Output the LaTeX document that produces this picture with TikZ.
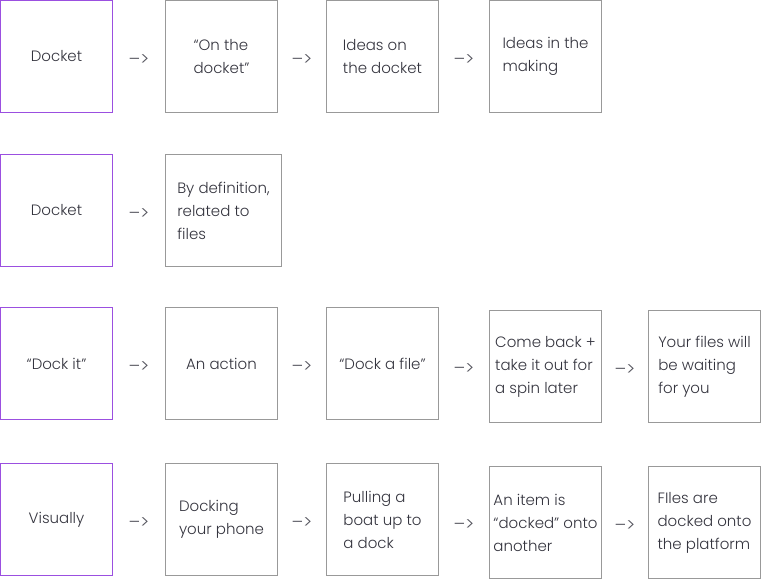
\documentclass[tikz,border=0pt]{standalone}
\usepackage{fontspec}
\setmainfont{Poppins Light}
\usepackage{tikz}

\definecolor{boxgray}{HTML}{999999}
\definecolor{headviolet}{HTML}{9B4FE0}
\definecolor{inkgray}{HTML}{34343E}
\definecolor{arrowgray}{HTML}{55555E}

\begin{document}
\begin{tikzpicture}[x=1pt, y=-1pt,
    card/.style={rectangle, draw=boxgray, line width=1pt, minimum width=112pt, minimum height=112pt,
                 align=left, text=inkgray, font=\fontsize{15}{23}\selectfont, inner sep=0pt},
    headcard/.style={card, draw=headviolet},
    goesto/.style={text=arrowgray, font=\fontsize{18}{23}\selectfont, yshift=-4pt}]
    \useasboundingbox (0,0) rectangle (762,580);

    % row 1
    \node at (56.5,56.5) [headcard] (Docket) {Docket};
    \node at (221.5,56.5) [card] (OnDocket) {“On the\\docket”};
    \node at (382.5,56.5) [card] (IdeasOn) {Ideas on\\the docket};
    \node at (545.5,56.5) [card] (IdeasMaking) {Ideas in the\\making};

    % row 2
    \node at (56.5,210.5) [headcard] (DocketTwo) {Docket};
    \node at (223.5,210.5) [card, minimum width=116pt] (Definition) {By definition,\\related to\\files};

    % row 3
    \node at (56.5,363.5) [headcard] (DockIt) {“Dock it”};
    \node at (221.5,363.5) [card] (Action) {An action};
    \node at (382.5,363.5) [card] (DockFile) {“Dock a file”};
    \node at (545.5,366.5) [card] (ComeBack) {Come back +\\take it out for\\a spin later};
    \node at (704.5,366.5) [card] (Waiting) {Your files will\\be waiting\\for you};

    % row 4
    \node at (56.5,519.5) [headcard] (Visually) {Visually};
    \node at (221.5,519.5) [card] (Phone) {Docking\\your phone};
    \node at (382.5,519.5) [card] (Boat) {Pulling a\\boat up to\\a dock};
    \node at (545.5,522.5) [card] (Item) {An item is\\“docked” onto\\another};
    \node at (704.5,522.5) [card] (Platform) {FIles are\\docked onto\\the platform};

    \path (Docket) -- node[goesto] {–>} (OnDocket);
    \path (OnDocket) -- node[goesto] {–>} (IdeasOn);
    \path (IdeasOn) -- node[goesto] {–>} (IdeasMaking);

    \path (DocketTwo) -- node[goesto] {–>} (Definition);

    \path (DockIt) -- node[goesto] {–>} (Action);
    \path (Action) -- node[goesto] {–>} (DockFile);
    \path (DockFile) -- node[goesto] {–>} (ComeBack);
    \path (ComeBack) -- node[goesto] {–>} (Waiting);

    \path (Visually) -- node[goesto] {–>} (Phone);
    \path (Phone) -- node[goesto] {–>} (Boat);
    \path (Boat) -- node[goesto] {–>} (Item);
    \path (Item) -- node[goesto] {–>} (Platform);
\end{tikzpicture}
\end{document}
